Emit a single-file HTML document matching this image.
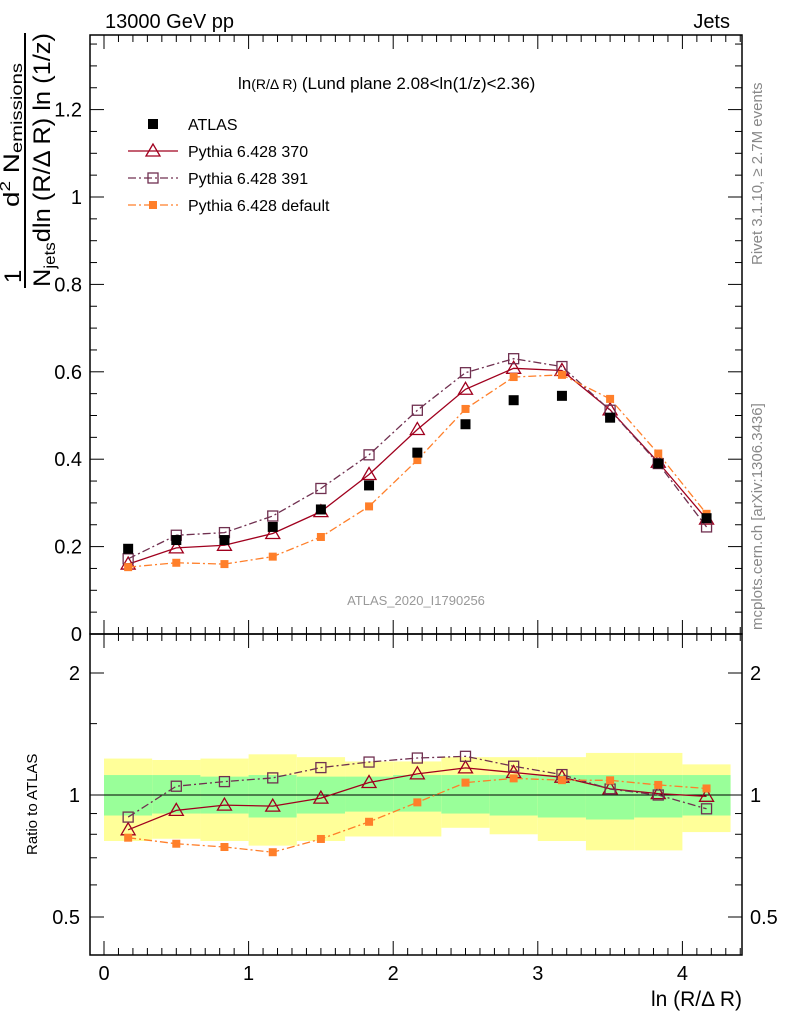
<!DOCTYPE html>
<html><head><meta charset="utf-8">
<style>
html,body{margin:0;padding:0;background:#fff;}
svg text{font-family:"Liberation Sans",Arial,sans-serif;}
</style></head>
<body>
<svg id="chart" width="786" height="1024" viewBox="0 0 786 1024" xmlns="http://www.w3.org/2000/svg">
<g id="bands"></g>
<g id="frames"></g>
<g id="series"></g>
<text x="105" y="28" font-size="20">13000 GeV pp</text>
<text x="730" y="28" font-size="20" text-anchor="end">Jets</text>
<text x="238" y="89" font-size="17">ln<tspan font-size="14">(R/Δ R)</tspan> (Lund plane 2.08&lt;ln(1/z)&lt;2.36)</text>
<text x="416" y="605" font-size="13" fill="#999" text-anchor="middle">ATLAS_2020_I1790256</text>
<text transform="translate(762,265) rotate(-90)" font-size="15" fill="#888">Rivet 3.1.10, ≥ 2.7M events</text>
<text transform="translate(762,630) rotate(-90)" font-size="15" fill="#888">mcplots.cern.ch [arXiv:1306.3436]</text>
<text x="742" y="1006" font-size="21" text-anchor="end">ln (R/Δ R)</text>
<text transform="translate(37,855) rotate(-90)" font-size="15">Ratio to ATLAS</text>
<g>
 <text transform="translate(21,283) rotate(-90)" font-size="24">1</text>
 <text transform="translate(19,207) rotate(-90)" font-size="22" textLength="144" lengthAdjust="spacingAndGlyphs">d<tspan font-size="15" dy="-9">2</tspan><tspan dy="9"> N</tspan><tspan font-size="16" dy="3">emissions</tspan></text>
 <line x1="25" y1="288" x2="25" y2="33" stroke="#000" stroke-width="2"/>
 <text transform="translate(50,287) rotate(-90)" font-size="24" textLength="254" lengthAdjust="spacingAndGlyphs">N<tspan font-size="16" dy="5">jets</tspan><tspan dy="-5">dln (R/Δ R) ln (1/z)</tspan></text>
</g>
<g id="legend"></g>
</svg>
<script>
const xCenters=[0.167,0.5,0.833,1.167,1.5,1.833,2.167,2.5,2.833,3.167,3.5,3.833,4.167];
const atlas=[0.195,0.215,0.215,0.245,0.285,0.34,0.415,0.48,0.535,0.545,0.495,0.39,0.265];
const py370=[0.16,0.197,0.203,0.23,0.28,0.365,0.468,0.56,0.608,0.603,0.513,0.393,0.263];
const py391=[0.172,0.226,0.232,0.27,0.333,0.41,0.512,0.598,0.63,0.612,0.512,0.39,0.245];
const pyDef=[0.153,0.163,0.16,0.177,0.222,0.292,0.398,0.515,0.588,0.593,0.538,0.413,0.275];
const binEdges=[0,0.333,0.667,1,1.333,1.667,2,2.333,2.667,3,3.333,3.667,4,4.333];
const yellowHi=[1.23,1.22,1.23,1.26,1.24,1.21,1.21,1.24,1.24,1.24,1.27,1.27,1.19];
const yellowLo=[0.77,0.78,0.77,0.75,0.77,0.79,0.79,0.83,0.80,0.77,0.73,0.73,0.81];
const greenHi=[1.12,1.12,1.11,1.12,1.11,1.11,1.12,1.12,1.12,1.12,1.12,1.12,1.12];
const greenLo=[0.89,0.90,0.90,0.88,0.90,0.91,0.91,0.90,0.89,0.88,0.87,0.88,0.89];
const yTicks=[0,0.2,0.4,0.6,0.8,1,1.2];
const yTickLabels=["0","0.2","0.4","0.6","0.8","1","1.2"];
const xTicks=[0,1,2,3,4];
const xTickLabels=["0","1","2","3","4"];
const rTicks=[0.5,1,2];
const rTickLabels=["0.5","1","2"];

const NS="http://www.w3.org/2000/svg";
const L=90,R=742,T=35,M=634,B=955;
const sx=v=>104+v*144.6;
const sy=v=>634-v*437;
const sr=v=>795-122*Math.log2(v);
function mk(tag,attrs,parent){const e=document.createElementNS(NS,tag);for(const k in attrs)e.setAttribute(k,attrs[k]);parent.appendChild(e);return e;}
const bands=document.getElementById('bands'),frames=document.getElementById('frames'),series=document.getElementById('series'),legend=document.getElementById('legend');

for(let i=0;i<xCenters.length;i++){
 const x0=sx(binEdges[i]),x1=sx(binEdges[i+1]);
 const y=mk('rect',{x:x0,y:sr(yellowHi[i]),width:x1-x0,height:sr(yellowLo[i])-sr(yellowHi[i]),fill:'#ffff99'},bands);
 
 
 const g=mk('rect',{x:x0,y:sr(greenHi[i]),width:x1-x0,height:sr(greenLo[i])-sr(greenHi[i]),fill:'#99ff99'},bands);
 
 
}
mk('line',{x1:L,x2:R,y1:sr(1),y2:sr(1),stroke:'#000','stroke-width':1},bands);

mk('rect',{x:L,y:T,width:R-L,height:M-T,fill:'none',stroke:'#000','stroke-width':1.5},frames);
mk('rect',{x:L,y:M,width:R-L,height:B-M,fill:'none',stroke:'#000','stroke-width':1.5},frames);
for(let v=0;v<=1.37;v+=0.05){const y=sy(v);if(y<T)break;const major=Math.abs(v/0.2-Math.round(v/0.2))<1e-6;const l=major?14:7;
 mk('line',{x1:L,x2:L+l,y1:y,y2:y,stroke:'#000'},frames);mk('line',{x1:R,x2:R-l,y1:y,y2:y,stroke:'#000'},frames);}
yTicks.forEach((v,i)=>{const t=mk('text',{x:82,y:sy(v)+7,'font-size':20,'text-anchor':'end'},frames);t.textContent=yTickLabels[i];
 
 });
for(let v=-0.1;v<=4.42;v+=0.1){const xv=Math.round(v*10)/10;const x=sx(xv);if(x<L||x>R)continue;const major=Math.abs(xv-Math.round(xv))<1e-6;const l=major?14:7;
 mk('line',{x1:x,x2:x,y1:M,y2:M-l,stroke:'#000'},frames);mk('line',{x1:x,x2:x,y1:T,y2:T+l,stroke:'#000'},frames);
 mk('line',{x1:x,x2:x,y1:B,y2:B-l,stroke:'#000'},frames);mk('line',{x1:x,x2:x,y1:M,y2:M+l,stroke:'#000'},frames);}
xTicks.forEach((v,i)=>{const t=mk('text',{x:sx(v),y:980,'font-size':20,'text-anchor':'middle'},frames);t.textContent=xTickLabels[i];
 
 });
[0.5,0.6,0.7,0.8,0.9,1,1.5,2].forEach(v=>{const major=rTicks.includes(v);const l=major?14:7;const y=sr(v);
 mk('line',{x1:L,x2:L+l,y1:y,y2:y,stroke:'#000'},frames);mk('line',{x1:R,x2:R-l,y1:y,y2:y,stroke:'#000'},frames);});
rTicks.forEach((v,i)=>{const y=sr(v)+7;
 const t=mk('text',{x:80,y:y,'font-size':20,'text-anchor':'end'},frames);t.textContent=rTickLabels[i];
 
 
 const t2=mk('text',{x:750,y:y,'font-size':20},frames);t2.textContent=rTickLabels[i];
 
 });

function marker(kind,x,y,color,parent){
 if(kind==='tri') return mk('polygon',{points:`${x},${y-7} ${x-7},${y+5} ${x+7},${y+5}`,fill:'none',stroke:color,'stroke-width':1.3},parent);
 if(kind==='osq') return mk('rect',{x:x-5,y:y-5,width:10,height:10,fill:'none',stroke:color,'stroke-width':1.3},parent);
 if(kind==='fsq') return mk('rect',{x:x-4,y:y-4,width:8,height:8,fill:color},parent);
 return mk('rect',{x:x-5,y:y-5,width:10,height:10,fill:color},parent);
}
const models=[
 {name:'pythia-370',data:py370,color:'#a0001e',dash:'',mk:'tri'},
 {name:'pythia-391',data:py391,color:'#703050',dash:'8,3,2,3',mk:'osq'},
 {name:'pythia-default',data:pyDef,color:'#ff7f2a',dash:'8,3,2,3',mk:'fsq'}];
models.forEach(m=>{
 const g=mk('g',{},series);
 
 
 const pts=m.data.map((v,i)=>sx(xCenters[i])+','+sy(v)).join(' ');
 mk('polyline',{points:pts,fill:'none',stroke:m.color,'stroke-width':1.3,'stroke-dasharray':m.dash},g);
 m.data.forEach((v,i)=>{const e=marker(m.mk,sx(xCenters[i]),sy(v),m.color,g);
  
  });
 const rg=mk('g',{},series);
 
 
 const rp=m.data.map((v,i)=>sx(xCenters[i])+','+sr(v/atlas[i])).join(' ');
 mk('polyline',{points:rp,fill:'none',stroke:m.color,'stroke-width':1.3,'stroke-dasharray':m.dash},rg);
 m.data.forEach((v,i)=>{const e=marker(m.mk,sx(xCenters[i]),sr(v/atlas[i]),m.color,rg);
  
  });
});
atlas.forEach((v,i)=>{const e=marker('data',sx(xCenters[i]),sy(v),'#000',series);
 
 });

const leg=[{t:'ATLAS',k:'data',c:'#000',d:null},{t:'Pythia 6.428 370',k:'tri',c:'#a0001e',d:''},{t:'Pythia 6.428 391',k:'osq',c:'#703050',d:'8,3,2,3'},{t:'Pythia 6.428 default',k:'fsq',c:'#ff7f2a',d:'8,3,2,3'}];
leg.forEach((e,i)=>{const y=124+i*27;const g=mk('g',{},legend);
 
 
 if(e.d!==null)mk('line',{x1:128,x2:178,y1:y,y2:y,stroke:e.c,'stroke-width':1.3,'stroke-dasharray':e.d},g);
 marker(e.k,153,y,e.c,g);
 const t=mk('text',{x:188,y:y+6,'font-size':16},g);t.textContent=e.t;});
</script>
</body></html>
